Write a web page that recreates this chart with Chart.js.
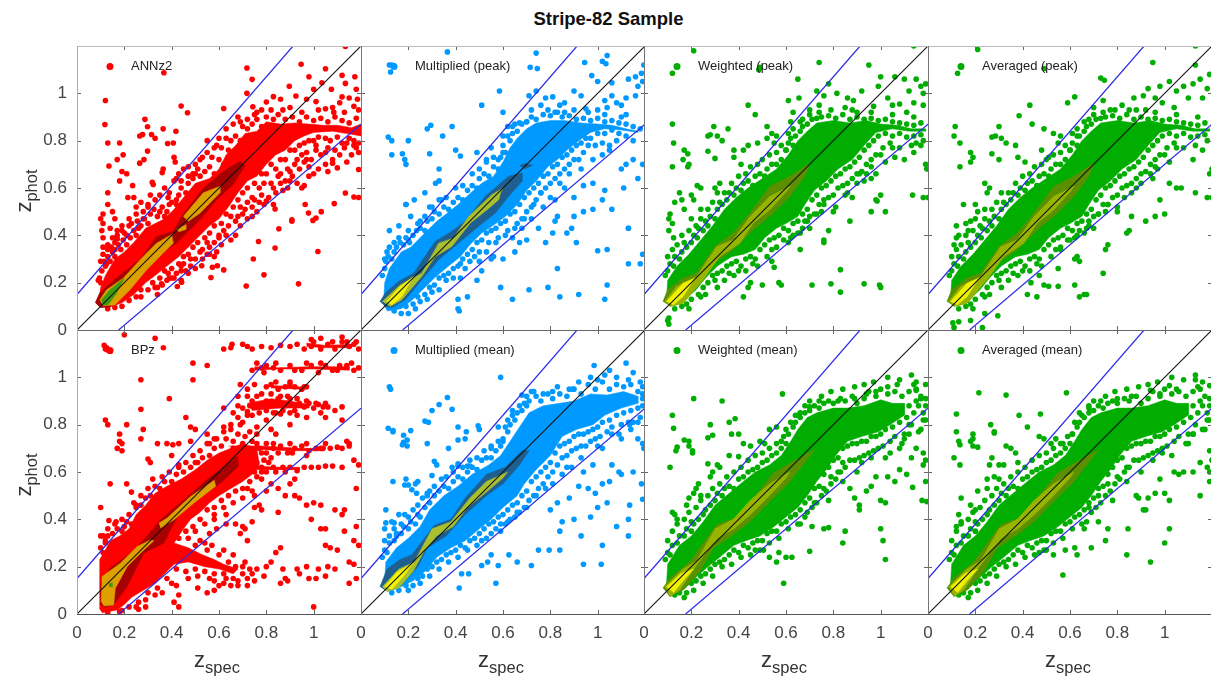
<!DOCTYPE html>
<html>
<head>
<meta charset="utf-8">
<title>Stripe-82 Sample</title>
<script src="https://cdn.jsdelivr.net/npm/chart.js@4/dist/chart.umd.min.js"></script>
<style>
  html, body { margin: 0; width: 1211px; height: 684px; overflow: hidden; background: #fff; }
  body { position: relative; font-family: "Liberation Sans", sans-serif; color: #333; }
  canvas { position: absolute; }
  #titulo { position: absolute; left: 3px; width: 1211px; top: 8px; text-align: center; font-size: 18.5px; font-weight: bold; color: #111; }
  .ejeX, .ejeY { position: absolute; font-size: 22px; line-height: 24px; white-space: nowrap; color: #333; }
  .ejeX sub, .ejeY sub { font-size: 16.5px; vertical-align: -6px; line-height: 0; }
  .ejeY { transform: rotate(-90deg); transform-origin: center; width: 80px; text-align: center; }
  .ejeX { width: 80px; text-align: center; top: 648px; }
</style>
</head>
<body>
<div id="titulo">Stripe-82 Sample</div>
<script>
// ── DATOS ───────────────────────────────────────────────────
const tickLabels = ['0', '0.2', '0.4', '0.6', '0.8', '1', ''];
const lineaIdentidad = [[0, 0], [1.2, 1.2]];
const lineaSuperior = [[0, 0.15], [0.913, 1.2]];
const lineaInferior = [[0.176, 0], [1.2, 0.87]];

// ANNz2
const annzNube = [[.09,.11],[.10,.18],[.12,.23],[.16,.30],[.20,.33],[.24,.37],[.29,.43],[.33,.45],[.37,.47],[.41,.51],[.45,.56],[.50,.62],[.56,.64],[.60,.68],[.63,.74],[.67,.78],[.71,.83],[.76,.84],[.80,.88],[.86,.87],[.92,.875],[.98,.87],[1.04,.865],[1.10,.865],[1.16,.855],[1.2,.87],[1.2,.82],[1.14,.83],[1.08,.84],[1.0,.835],[.96,.82],[.92,.80],[.88,.76],[.84,.74],[.80,.70],[.76,.65],[.72,.63],[.68,.58],[.64,.52],[.60,.47],[.56,.44],[.52,.40],[.47,.35],[.43,.31],[.38,.27],[.33,.23],[.29,.20],[.24,.15],[.19,.115],[.15,.10],[.10,.095]];
const annzOscuro = [[.077,.115],[.095,.155],[.167,.22],[.265,.297],[.336,.395],[.407,.417],[.442,.48],[.534,.60],[.619,.671],[.689,.713],[.71,.695],[.66,.615],[.59,.55],[.52,.466],[.477,.424],[.42,.367],[.336,.31],[.265,.226],[.195,.141],[.138,.096],[.096,.096]];
const annzMedio = [[.096,.127],[.124,.169],[.195,.219],[.28,.311],[.336,.367],[.40,.403],[.407,.367],[.364,.325],[.294,.254],[.223,.169],[.16,.106],[.11,.102]];
const annzMedio2 = [[.449,.48],[.534,.58],[.604,.607],[.604,.58],[.52,.494],[.47,.459]];
const annzMedio3 = [[.42,.425],[.46,.445],[.46,.425],[.43,.415]];
const annzCentro = [[.103,.127],[.138,.169],[.20,.22],[.167,.155],[.131,.106],[.108,.106]];
const annzBorde = [[.10,.20],[.095,.22],[.105,.25],[.09,.21],[.115,.29],[.12,.27],[.13,.31],[.14,.29],[.15,.33],[.145,.35],[.16,.34],[.175,.36],[.185,.34],[.17,.385],[.195,.38],[.21,.36],[.21,.40],[.225,.39],[.24,.42],[.25,.40],[.26,.43],[.255,.46],[.27,.44],[.285,.47],[.28,.50],[.30,.45],[.31,.49],[.325,.51],[.34,.48],[.35,.50],[.36,.52],[.38,.50],[.39,.53],[.385,.56],[.40,.54],[.42,.53],[.43,.57],[.44,.60],[.46,.58],[.47,.62],[.49,.64],[.50,.66],[.52,.65],[.54,.67],[.56,.69],[.58,.66],[.60,.72],[.62,.70],[.64,.76],[.65,.80],[.67,.82],[.69,.80],[.70,.86],[.72,.85],[.74,.87],[.76,.89],[.78,.86],[.80,.90],[.83,.89],[.85,.91],[.88,.89],[.91,.90],[.94,.88],[.97,.90],[1.0,.885],[1.03,.895],[1.06,.88],[1.09,.90],[1.12,.885],[1.15,.875],[1.18,.895],[.13,.09],[.16,.095],[.19,.10],[.22,.125],[.25,.14],[.27,.17],[.30,.17],[.32,.20],[.35,.22],[.34,.18],[.37,.25],[.39,.22],[.40,.26],[.43,.28],[.45,.31],[.44,.27],[.47,.32],[.49,.35],[.48,.30],[.51,.37],[.53,.34],[.54,.39],[.56,.41],[.55,.37],[.58,.44],[.60,.40],[.61,.45],[.63,.49],[.65,.48],[.66,.52],[.64,.44],[.68,.55],[.70,.58],[.69,.52],[.72,.60],[.74,.56],[.75,.62],[.77,.60],[.78,.66],[.80,.66],[.79,.62],[.82,.70],[.84,.68],[.86,.72],[.85,.65],[.88,.72],[.90,.76],[.89,.68],[.92,.76],[.94,.78],[.93,.72],[.96,.79],[.98,.80],[.97,.75],[1.0,.80],[1.02,.815],[1.01,.78],[1.05,.81],[1.07,.80],[1.06,.77],[1.10,.815],[1.12,.79],[1.15,.81],[1.17,.80],[1.19,.79],[.98,.69],[.90,.67],[.75,.55],[.72,.54],[.68,.48],[.62,.42],[.58,.37],[.52,.33],[.42,.24],[.46,.25]];
const annzAnillo = [[.10,.29],[.11,.35],[.13,.36],[.125,.28],[.15,.39],[.17,.42],[.16,.31],[.19,.44],[.20,.41],[.22,.47],[.23,.45],[.25,.52],[.27,.54],[.28,.47],[.30,.52],[.33,.55],[.31,.57],[.35,.57],[.37,.60],[.39,.58],[.41,.63],[.43,.66],[.42,.55],[.45,.68],[.47,.65],[.50,.70],[.52,.72],[.51,.68],[.55,.75],[.57,.73],[.59,.78],[.61,.77],[.63,.81],[.66,.87],[.69,.88],[.75,.91],[.78,.93],[.87,.93],[.90,.94],[.95,.92],[1.02,.93],[1.08,.94],[1.13,.92],[1.19,.93],[.27,.14],[.33,.18],[.36,.19],[.38,.21],[.41,.22],[.47,.24],[.45,.28],[.50,.26],[.53,.30],[.56,.32],[.59,.33],[.61,.36],[.65,.38],[.67,.40],[.69,.44],[.72,.47],[.74,.48],[.76,.50],[.79,.53],[.81,.56],[.83,.60],[.86,.62],[.88,.63],[.91,.65],[.94,.68],[.96,.71],[.99,.72],[1.03,.74],[1.05,.70],[1.08,.72],[1.11,.74],[1.13,.77],[1.16,.74],[1.19,.75],[.71,.51],[.77,.54],[.83,.53],[.89,.60],[.95,.60],[.58,.31],[.44,.21],[.34,.15]];
const annzPuntos = [[.12,.97],[.118,.868],[.13,.79],[.135,.693],[.13,.58],[.13,.53],[.11,.49],[.10,.47],[.11,.45],[.105,.42],[.11,.39],[.15,.50],[.16,.47],[.14,.43],[.17,.40],[.18,.79],[.195,.74],[.17,.72],[.19,.67],[.21,.66],[.18,.63],[.235,.61],[.215,.56],[.24,.56],[.287,.89],[.298,.859],[.277,.826],[.265,.82],[.315,.826],[.33,.81],[.364,.85],[.418,.84],[.383,.788],[.407,.79],[.298,.756],[.283,.72],[.265,.705],[.41,.73],[.415,.71],[.364,.68],[.36,.665],[.318,.624],[.322,.615],[.44,.946],[.467,.918],[.367,1.087],[.62,.936],[.718,1.107],[.74,1.059],[.718,1.0],[.743,.943],[.947,1.123],[1.05,1.104],[1.134,1.198],[1.12,1.076],[1.174,1.07],[1.134,1.042],[.98,1.07],[1.035,1.045],[.897,1.03],[1.0,1.017],[1.075,1.017],[1.18,1.017],[.8,.963],[.83,.986],[.86,.975],[.925,.989],[.97,.975],[1.01,.965],[1.12,.985],[1.15,.98],[1.185,.975],[1.11,.96],[1.17,.945],[1.05,.935],[1.085,.92],[.936,.195],[.79,.233],[.715,.186],[.745,.30],[.837,.346],[1.018,.332],[.853,.428],[.908,.466],[.908,.46],[.978,.494],[.997,.463],[1.01,.473],[1.032,.50],[1.087,.534],[.964,.53],[1.134,.579],[1.17,.562],[1.19,.56],[1.19,.678],[.837,.511],[.80,.545],[.767,.374],[.62,.254],[.593,.271],[.572,.265],[.566,.222],[.527,.271],[.442,.202],[.424,.184],[.357,.195],[.385,.24],[1.08,.705],[1.06,.67],[1.02,.68],[1.0,.66],[.98,.65],[.96,.61],[.93,.62],[.90,.63],[.87,.59],[1.10,.685],[1.14,.79],[1.17,.78],[1.18,.77],[1.14,.71],[.95,.74],[.92,.70],[.97,.72],[1.01,.76],[1.05,.75],[1.09,.76],[.86,.66],[.82,.62],[.84,.58],[.78,.57],[.74,.52],[.70,.49],[.67,.46],[.63,.40],[.60,.39],[.56,.35],[.55,.32],[.50,.30],[.48,.27],[.44,.25],[.40,.22],[.37,.48],[.30,.53],[.25,.49],[.22,.44],[.19,.42],[.16,.37],[.13,.34],[.11,.32],[.44,.63],[.42,.64],[.49,.66],[.47,.69],[.53,.73],[.58,.77],[.60,.81],[.55,.80],[.63,.85],[.68,.90],[.72,.89],[.76,.92],[.82,.93]];

// Multiplied (peak)
const multPicoNube = [[.095,.11],[.10,.20],[.12,.26],[.17,.33],[.21,.35],[.25,.39],[.32,.46],[.36,.49],[.41,.53],[.47,.585],[.51,.62],[.56,.65],[.60,.71],[.63,.77],[.66,.81],[.70,.85],[.74,.875],[.80,.885],[.86,.885],[.93,.875],[1.0,.87],[1.06,.865],[1.12,.85],[1.17,.84],[1.17,.835],[1.10,.845],[1.03,.85],[.97,.835],[.92,.80],[.87,.76],[.83,.72],[.79,.69],[.74,.63],[.70,.59],[.66,.53],[.61,.48],[.57,.45],[.51,.41],[.46,.36],[.42,.31],[.37,.27],[.31,.22],[.27,.18],[.22,.13],[.17,.09],[.11,.08]];
const multPicoOscuro = [[.08,.12],[.102,.155],[.158,.205],[.222,.24],[.313,.374],[.384,.417],[.44,.459],[.525,.565],[.624,.65],[.68,.664],[.68,.628],[.624,.565],[.568,.494],[.497,.438],[.412,.367],[.328,.297],[.257,.212],[.186,.127],[.13,.095],[.102,.099]];
const multPicoOscuro2 = [[.67,.695],[.70,.705],[.725,.695],[.69,.68]];
const multPicoMedio = [[.09,.12],[.165,.19],[.257,.24],[.328,.367],[.39,.388],[.455,.48],[.553,.572],[.60,.60],[.59,.58],[.582,.55],[.533,.508],[.462,.452],[.384,.353],[.313,.31],[.257,.226],[.172,.127],[.123,.099]];
const multPicoCentro = [[.109,.12],[.165,.184],[.222,.226],[.172,.141],[.13,.106]];
const multPicoBorde = [[.09,.23],[.10,.26],[.105,.29],[.115,.31],[.13,.30],[.14,.33],[.15,.35],[.165,.37],[.18,.36],[.19,.39],[.205,.37],[.22,.40],[.235,.42],[.25,.43],[.27,.42],[.28,.46],[.30,.47],[.31,.50],[.33,.49],[.35,.52],[.37,.51],[.39,.54],[.41,.56],[.43,.55],[.45,.59],[.47,.61],[.49,.60],[.50,.64],[.52,.66],[.54,.65],[.56,.69],[.58,.68],[.59,.73],[.61,.75],[.60,.78],[.63,.80],[.64,.83],[.66,.84],[.68,.87],[.70,.88],[.72,.90],[.74,.89],[.77,.91],[.80,.905],[.83,.92],[.85,.90],[.88,.905],[.91,.89],[.94,.895],[.97,.885],[1.0,.895],[1.03,.88],[1.06,.885],[1.09,.875],[1.12,.87],[1.15,.86],[1.18,.85],[.14,.08],[.17,.07],[.19,.10],[.22,.11],[.24,.14],[.27,.15],[.29,.18],[.31,.19],[.33,.22],[.35,.23],[.37,.24],[.39,.26],[.41,.27],[.43,.30],[.45,.32],[.47,.34],[.46,.29],[.49,.37],[.51,.38],[.50,.33],[.53,.41],[.55,.42],[.54,.37],[.57,.43],[.59,.45],[.58,.39],[.61,.46],[.63,.49],[.62,.42],[.65,.50],[.67,.53],[.66,.45],[.69,.56],[.71,.58],[.70,.50],[.73,.60],[.75,.62],[.74,.55],[.77,.65],[.79,.66],[.78,.60],[.81,.69],[.83,.70],[.82,.64],[.85,.73],[.87,.74],[.86,.68],[.89,.76],[.91,.78],[.90,.72],[.93,.79],[.95,.81],[.94,.75],[.97,.81],[1.0,.83],[.99,.78],[1.03,.83],[1.06,.845],[1.09,.83],[1.12,.82],[1.02,.79],[.88,.66],[.84,.62],[.80,.56],[.77,.52],[.72,.47],[.68,.43],[.64,.39],[.50,.29],[.44,.26],[.39,.22],[.33,.17],[.28,.13],[.23,.09]];
const multPicoAnillo = [[.10,.30],[.12,.35],[.16,.39],[.20,.42],[.24,.45],[.21,.48],[.27,.48],[.30,.52],[.33,.55],[.36,.56],[.40,.60],[.43,.61],[.47,.66],[.50,.68],[.53,.71],[.56,.73],[.55,.77],[.60,.82],[.62,.86],[.65,.87],[.72,.93],[.76,.95],[.79,.93],[.84,.95],[.90,.93],[.96,.92],[1.03,.91],[1.10,.90],[.96,.78],[.92,.72],[.88,.70],[.84,.66],[.80,.62],[.76,.58],[.73,.53],[.69,.47],[.65,.43],[.61,.40],[.57,.37],[.53,.33],[.48,.31],[.42,.28],[.36,.21],[.30,.16],[.25,.12],[.20,.07],[1.05,.78],[1.08,.80],[1.15,.80],[1.02,.74],[.98,.72],[.93,.68]];
const multPicoPuntos = [[.365,1.175],[.12,1.12],[.13,1.12],[.14,1.115],[.125,1.09],[.715,1.11],[.745,1.105],[.74,1.17],[.945,1.13],[1.02,1.135],[1.035,1.125],[1.04,1.16],[1.195,1.12],[1.185,1.085],[1.16,1.07],[.975,1.075],[1.0,1.05],[1.06,1.045],[1.13,1.06],[1.17,1.03],[1.19,1.05],[.585,1.01],[.60,.92],[.51,.95],[.71,.99],[.74,1.01],[.78,.98],[.81,.985],[.86,.96],[.90,1.01],[.93,.99],[1.03,.97],[1.06,.99],[1.08,.96],[1.12,.98],[1.16,.99],[.82,.92],[.86,.92],[.95,.935],[1.0,.93],[1.04,.94],[1.1,.95],[1.12,.91],[.70,.88],[.67,.875],[.64,.86],[.385,.86],[.295,.865],[.28,.85],[.345,.82],[.115,.815],[.13,.80],[.2,.80],[.175,.745],[.13,.74],[.185,.72],[.19,.70],[.29,.745],[.33,.68],[.40,.76],[.42,.735],[.49,.75],[.53,.72],[.33,.63],[.315,.62],[.27,.58],[.225,.55],[.19,.53],[.16,.44],[.20,.38],[.14,.37],[.11,.33],[.12,.42],[.19,.53],[1.19,.32],[1.18,.28],[1.13,.28],[1.04,.34],[1.0,.335],[.83,.26],[.84,.14],[1.04,.19],[1.03,.13],[.92,.15],[.79,.18],[.71,.17],[.64,.13],[.59,.18],[.55,.30],[.51,.25],[.49,.21],[.42,.22],[.41,.13],[.45,.14],[.41,.09],[.415,.08],[.82,.46],[.83,.48],[.90,.48],[.94,.50],[.98,.51],[1.02,.55],[1.06,.51],[1.13,.43],[1.13,.43],[.87,.41],[.89,.43],[.91,.37],[.81,.41],[.78,.37],[.70,.38],[.75,.43],[.67,.37],[.65,.33],[.60,.30],[.56,.31],[1.03,.59],[1.11,.60],[1.17,.64],[1.19,.70],[1.15,.72],[1.05,.76],[.98,.62],[.94,.61],[.86,.60],[.90,.56],[.82,.55],[1.1,.68],[1.12,.70],[.76,.58],[.72,.52],[.68,.47],[.34,.55],[.29,.52],[.25,.46],[.60,.75],[.62,.82],[.58,.72]];

// Weighted y Averaged (peak)
const verdePicoNube = [[.095,.127],[.10,.21],[.14,.27],[.19,.32],[.24,.38],[.29,.44],[.34,.51],[.39,.56],[.44,.60],[.50,.64],[.56,.68],[.61,.74],[.65,.80],[.69,.84],[.73,.875],[.80,.885],[.87,.875],[.94,.885],[1.0,.87],[1.07,.865],[1.13,.85],[1.19,.85],[1.19,.84],[1.12,.84],[1.05,.85],[.98,.835],[.93,.78],[.88,.72],[.82,.68],[.77,.63],[.72,.59],[.68,.53],[.65,.48],[.60,.45],[.56,.43],[.51,.39],[.47,.34],[.42,.32],[.37,.31],[.31,.27],[.26,.22],[.22,.17],[.17,.125],[.11,.10]];
const verdePicoOscuro = [[.08,.12],[.10,.17],[.165,.22],[.222,.24],[.30,.353],[.377,.41],[.448,.494],[.532,.607],[.617,.65],[.702,.706],[.68,.65],[.617,.565],[.547,.494],[.462,.424],[.377,.339],[.292,.282],[.236,.198],[.165,.113],[.11,.10]];
const verdePicoMedio = [[.088,.12],[.137,.184],[.222,.226],[.307,.353],[.377,.381],[.448,.48],[.532,.565],[.617,.607],[.603,.586],[.532,.508],[.462,.452],[.405,.367],[.32,.31],[.25,.212],[.165,.113],[.115,.10]];
const verdePicoCentro = [[.095,.12],[.165,.198],[.215,.219],[.165,.141],[.123,.106]];
const verdePicoBorde = [[.09,.23],[.10,.25],[.11,.28],[.125,.27],[.13,.31],[.15,.30],[.16,.33],[.18,.35],[.17,.37],[.20,.37],[.21,.40],[.225,.39],[.23,.43],[.25,.42],[.26,.46],[.27,.44],[.28,.48],[.30,.47],[.31,.51],[.32,.54],[.33,.53],[.35,.55],[.36,.58],[.38,.57],[.39,.60],[.41,.59],[.42,.62],[.44,.63],[.46,.61],[.47,.65],[.49,.66],[.51,.65],[.52,.68],[.54,.70],[.56,.70],[.58,.72],[.60,.76],[.61,.79],[.63,.78],[.64,.82],[.66,.84],[.67,.86],[.69,.87],[.71,.89],[.73,.895],[.75,.90],[.78,.905],[.81,.895],[.84,.91],[.87,.89],[.90,.90],[.93,.89],[.96,.895],[.99,.885],[1.02,.89],[1.05,.88],[1.08,.875],[1.11,.87],[1.14,.865],[1.17,.875],[.13,.09],[.16,.10],[.18,.11],[.20,.13],[.23,.15],[.25,.18],[.27,.20],[.29,.23],[.31,.24],[.33,.25],[.35,.27],[.37,.28],[.39,.29],[.41,.27],[.43,.30],[.45,.31],[.47,.30],[.49,.34],[.51,.36],[.53,.38],[.55,.39],[.57,.40],[.59,.43],[.61,.42],[.63,.45],[.65,.46],[.67,.49],[.69,.51],[.71,.55],[.70,.48],[.73,.57],[.75,.60],[.74,.53],[.77,.61],[.79,.63],[.78,.56],[.81,.65],[.83,.66],[.82,.60],[.85,.68],[.87,.69],[.86,.62],[.89,.71],[.91,.73],[.90,.66],[.93,.76],[.95,.78],[.94,.70],[.97,.80],[.99,.82],[.98,.74],[1.02,.83],[1.05,.82],[1.01,.77],[1.08,.83],[1.11,.815],[1.14,.82],[1.17,.825],[1.05,.77],[.96,.69],[.86,.58],[.75,.50],[.67,.43],[.62,.39],[.54,.34],[.46,.28],[.40,.25],[.36,.24],[.30,.21],[.24,.14]];
const verdePicoAnillo = [[.10,.31],[.12,.34],[.14,.36],[.16,.40],[.19,.42],[.22,.44],[.20,.47],[.24,.47],[.27,.51],[.24,.51],[.29,.54],[.34,.58],[.31,.58],[.37,.62],[.40,.65],[.43,.66],[.45,.69],[.48,.70],[.50,.72],[.53,.74],[.56,.75],[.58,.78],[.55,.79],[.61,.83],[.63,.85],[.66,.88],[.70,.91],[.74,.92],[.79,.93],[.88,.93],[.96,.92],[1.05,.91],[1.14,.90],[.19,.09],[.26,.15],[.31,.18],[.34,.21],[.38,.23],[.43,.25],[.48,.27],[.52,.31],[.56,.35],[.59,.38],[.63,.40],[.66,.41],[.68,.46],[.72,.49],[.76,.53],[.80,.57],[.84,.61],[.88,.64],[.92,.67],[.96,.72],[1.0,.74],[1.04,.79],[1.08,.77],[1.13,.78],[1.18,.80],[.94,.66],[.90,.62],[.80,.50],[.70,.43]];
const pesoPicoPuntos = [[.21,1.18],[.12,1.085],[.49,1.11],[.485,1.1],[.65,1.06],[.74,1.13],[.78,1.04],[.73,1.01],[.74,.95],[.815,1.0],[.86,.98],[.95,1.12],[1.14,1.2],[1.0,1.07],[1.06,1.07],[1.15,1.06],[1.19,1.04],[1.12,1.01],[1.1,1.06],[1.17,1.03],[1.18,1.0],[.885,.97],[.92,1.01],[.99,1.03],[.7,.93],[.63,.92],[.67,.89],[.62,.88],[.44,.95],[.47,.91],[.61,.97],[.655,.98],[.76,.99],[.85,.94],[.9,.92],[.97,.945],[1.03,.98],[1.05,.95],[1.08,.955],[1.14,.96],[1.18,.95],[1.11,.92],[.12,.87],[.295,.86],[.355,.85],[.28,.825],[.27,.82],[.31,.82],[.33,.80],[.125,.79],[.38,.76],[.17,.76],[.185,.745],[.165,.72],[.19,.70],[.12,.69],[.185,.69],[.27,.755],[.30,.725],[.38,.73],[.41,.70],[.52,.86],[.54,.83],[.56,.82],[.52,.81],[.48,.79],[.44,.78],[.42,.76],[.32,.62],[.30,.60],[.24,.60],[.225,.61],[.20,.57],[.15,.58],[.13,.54],[.11,.49],[.105,.47],[.12,.45],[.105,.42],[.125,.39],[.16,.55],[.17,.51],[.21,.55],[.995,.19],[1.0,.18],[.71,.19],[.79,.195],[.83,.255],[.83,.16],[.93,.195],[.58,.19],[.50,.19],[.55,.265],[.54,.29],[.45,.20],[.44,.18],[.42,.14],[.57,.20],[.10,.04],[.105,.025],[.105,.05],[.76,.37],[.76,.38],[.78,.42],[.87,.46],[.98,.55],[.985,.545],[.96,.5],[1.02,.50],[1.18,.56],[1.2,.56],[1.195,.68],[1.19,.70],[1.135,.57],[1.0,.57],[.96,.64],[.93,.63],[.91,.66],[.88,.56],[.85,.57],[.81,.52],[.76,.55],[.73,.49],[.69,.46],[.65,.41],[.61,.37],[.66,.34],[1.1,.72],[1.14,.75],[1.15,.79],[1.17,.78],[1.06,.73],[1.02,.71],[.98,.66],[.62,.81],[.60,.76]];
const promPicoPuntos = [[.21,1.185],[.125,1.085],[.49,1.105],[.73,1.065],[.745,1.055],[.95,1.13],[1.13,1.2],[1.13,1.12],[.98,1.03],[.93,1.02],[.87,.98],[.91,.99],[.96,.98],[.99,.96],[1.02,1.05],[1.05,1.01],[1.08,1.03],[1.12,1.04],[1.15,1.06],[1.19,1.08],[1.18,1.02],[1.1,.98],[1.16,.98],[1.04,.94],[.62,.985],[.59,.96],[.74,.97],[.70,.94],[.77,.93],[.82,.95],[.85,.93],[.92,.93],[.68,.89],[.43,.95],[.385,.905],[.44,.87],[.49,.85],[.53,.83],[.56,.82],[.115,.86],[.11,.82],[.135,.79],[.30,.86],[.285,.82],[.27,.815],[.31,.81],[.33,.79],[.37,.78],[.18,.75],[.19,.73],[.18,.71],[.135,.69],[.27,.745],[.30,.72],[.38,.73],[.41,.71],[.48,.76],[.51,.73],[.24,.62],[.26,.60],[.25,.58],[.15,.53],[.20,.53],[.21,.50],[.18,.46],[.12,.44],[.13,.40],[.12,.39],[.16,.45],[.17,.42],[.11,.36],[.66,.15],[.64,.14],[.62,.19],[.51,.185],[.55,.185],[.49,.19],[.46,.14],[.47,.23],[.42,.15],[.435,.20],[.55,.26],[.62,.30],[.75,.34],[.76,.36],[.74,.24],[.67,.15],[.105,.03],[.11,.01],[.13,.035],[.295,.06],[.24,.07],[.23,.01],[.18,.04],[.63,.31],[.64,.29],[.84,.41],[.85,.42],[.86,.48],[.92,.46],[.96,.48],[1.0,.49],[.98,.55],[1.13,.58],[1.18,.56],[1.2,.56],[1.19,.66],[1.2,.68],[1.05,.60],[1.07,.60],[1.02,.62],[.95,.64],[.88,.60],[.83,.56],[.80,.52],[.76,.53],[.72,.49],[.68,.44],[.64,.42],[.60,.38],[.56,.34],[1.12,.72],[1.16,.76],[1.02,.71],[.97,.68],[.60,.76],[.63,.82]];

// Multiplied (mean)
const multMediaNube = [[.098,.116],[.105,.22],[.15,.28],[.20,.32],[.25,.37],[.29,.44],[.35,.50],[.41,.54],[.47,.59],[.54,.63],[.59,.67],[.63,.73],[.67,.79],[.71,.85],[.77,.88],[.84,.89],[.90,.90],[.97,.93],[1.04,.925],[1.11,.94],[1.17,.92],[1.17,.89],[1.10,.87],[1.03,.84],[.98,.80],[.91,.78],[.85,.75],[.80,.67],[.74,.61],[.69,.55],[.66,.50],[.60,.45],[.55,.40],[.50,.36],[.44,.31],[.38,.28],[.32,.24],[.27,.18],[.22,.14],[.17,.115],[.12,.095]];
const multMediaOscuro = [[.08,.115],[.11,.19],[.165,.23],[.215,.25],[.31,.375],[.38,.40],[.44,.49],[.53,.59],[.61,.62],[.68,.69],[.71,.69],[.67,.63],[.60,.55],[.53,.50],[.44,.42],[.36,.33],[.28,.28],[.24,.20],[.17,.12],[.11,.095]];
const multMediaMedio = [[.09,.115],[.16,.19],[.225,.22],[.30,.36],[.38,.39],[.46,.49],[.53,.56],[.62,.60],[.60,.575],[.53,.515],[.45,.45],[.39,.37],[.32,.33],[.27,.27],[.22,.18],[.16,.11],[.11,.095]];
const multMediaCentro = [[.10,.115],[.15,.175],[.22,.215],[.18,.16],[.13,.105]];
const multMediaBorde = [[.09,.24],[.10,.27],[.11,.26],[.12,.30],[.14,.31],[.15,.33],[.17,.34],[.18,.37],[.20,.36],[.21,.39],[.23,.38],[.24,.42],[.25,.41],[.27,.45],[.29,.47],[.28,.50],[.31,.50],[.33,.52],[.35,.54],[.37,.53],[.39,.56],[.41,.58],[.43,.57],[.45,.60],[.47,.62],[.49,.61],[.51,.65],[.53,.66],[.55,.66],[.57,.69],[.59,.71],[.60,.74],[.62,.77],[.63,.80],[.65,.82],[.66,.85],[.68,.86],[.69,.89],[.71,.90],[.74,.92],[.76,.90],[.79,.93],[.81,.91],[.84,.93],[.87,.92],[.90,.95],[.93,.93],[.96,.97],[.99,.95],[1.02,.98],[1.05,.95],[1.08,.97],[1.11,.96],[1.14,.97],[1.17,.94],[1.19,.96],[.13,.09],[.16,.10],[.19,.12],[.22,.12],[.24,.15],[.26,.16],[.28,.19],[.30,.20],[.32,.22],[.34,.23],[.36,.25],[.38,.26],[.40,.27],[.42,.29],[.44,.28],[.46,.31],[.48,.32],[.50,.34],[.52,.36],[.51,.31],[.54,.38],[.56,.39],[.55,.34],[.58,.41],[.60,.42],[.59,.38],[.62,.44],[.64,.46],[.63,.40],[.66,.47],[.68,.50],[.67,.43],[.70,.52],[.72,.56],[.71,.48],[.74,.58],[.76,.60],[.75,.53],[.78,.62],[.80,.64],[.79,.58],[.82,.68],[.84,.71],[.83,.63],[.86,.72],[.88,.73],[.87,.67],[.90,.75],[.92,.76],[.91,.70],[.94,.76],[.96,.77],[.95,.71],[.98,.78],[1.0,.79],[.99,.74],[1.02,.81],[1.05,.82],[1.04,.77],[1.08,.84],[1.11,.85],[1.10,.80],[1.14,.86],[1.17,.87],[1.15,.81],[1.19,.88],[1.19,.93],[1.19,.91],[1.18,.83]];
const multMediaAnillo = [[.10,.31],[.12,.33],[.14,.36],[.17,.38],[.16,.42],[.20,.41],[.22,.44],[.24,.46],[.26,.49],[.29,.52],[.31,.54],[.34,.57],[.36,.58],[.39,.60],[.43,.62],[.46,.65],[.49,.66],[.52,.69],[.55,.71],[.58,.73],[.61,.79],[.64,.84],[.67,.88],[.70,.92],[.73,.94],[.77,.93],[.83,.96],[.88,.95],[.92,.98],[.97,1.0],[1.03,1.01],[1.08,1.0],[.20,.10],[.25,.13],[.29,.16],[.33,.19],[.37,.22],[.41,.24],[.45,.27],[.49,.29],[.53,.32],[.57,.36],[.61,.38],[.65,.41],[.69,.45],[.73,.50],[.77,.55],[.81,.60],[.85,.66],[.89,.69],[.93,.71],[.97,.73],[1.01,.75],[1.06,.79],[1.09,.76],[1.13,.81],[1.17,.81],[.93,.66],[.87,.62],[.81,.55]];
const multMediaPuntos = [[.59,1.0],[.12,.96],[.125,.95],[.365,.915],[.33,.885],[.385,.865],[.30,.86],[.27,.815],[.285,.81],[.115,.785],[.135,.775],[.21,.775],[.135,.77],[.18,.755],[.195,.735],[.18,.725],[.175,.715],[.195,.71],[.28,.72],[.41,.79],[.445,.77],[.495,.795],[.50,.78],[.44,.74],[.41,.735],[.37,.70],[.31,.645],[.32,.63],[.385,.62],[.41,.635],[.41,.625],[.45,.625],[.46,.625],[.30,.585],[.23,.55],[.24,.56],[.135,.56],[.185,.545],[.20,.545],[.19,.57],[.215,.525],[.235,.51],[.28,.51],[.105,.44],[.105,.385],[.14,.385],[.10,.36],[.15,.34],[.185,.42],[.13,.39],[.425,.17],[.455,.17],[.415,.11],[.57,.13],[.51,.205],[.535,.22],[.55,.25],[.58,.205],[.625,.25],[.66,.22],[.72,.205],[.75,.27],[.795,.27],[.84,.27],[1.02,.29],[1.015,.21],[.94,.21],[1.135,.46],[1.19,.485],[1.185,.55],[1.13,.40],[1.13,.33],[1.08,.37],[1.09,.60],[1.1,.59],[1.15,.60],[1.19,.72],[1.195,.70],[1.17,.74],[1.14,.78],[1.135,.80],[.85,.39],[.84,.35],[.90,.40],[.93,.33],[.97,.41],[1.0,.45],[1.04,.47],[.99,.51],[1.02,.55],[1.06,.63],[1.05,.56],[.88,.49],[.83,.47],[.80,.44],[.92,.54],[.96,.53],[.94,.60],[.98,.63],[.89,.62],[.85,.59],[.78,.53],[.74,.50],[.70,.45],[.66,.43],[.62,.39],[.59,.35],[1.13,.99],[1.18,.98],[1.15,1.02],[1.12,1.06],[1.05,1.03],[.985,1.05],[1.0,.99],[.895,.95],[.81,.94],[.72,.94],[.68,.925],[1.1,.74],[1.06,.76],[1.02,.70],[1.0,.71],[.70,.88],[.64,.86],[.62,.82],[.60,.73],[.55,.70],[.58,.79]];

// Weighted y Averaged (mean)
const verdeMediaNube = [[.095,.123],[.10,.21],[.15,.29],[.20,.33],[.25,.39],[.30,.46],[.36,.51],[.42,.56],[.47,.60],[.53,.63],[.58,.67],[.62,.73],[.65,.78],[.69,.83],[.73,.85],[.80,.87],[.86,.87],[.93,.88],[1.0,.905],[1.05,.89],[1.10,.89],[1.10,.84],[1.04,.80],[.99,.77],[.92,.75],[.86,.73],[.81,.67],[.77,.61],[.73,.56],[.69,.50],[.65,.45],[.60,.41],[.55,.37],[.49,.33],[.43,.31],[.38,.29],[.32,.24],[.27,.20],[.22,.155],[.17,.105],[.11,.075]];
const verdeMediaOscuro = [[.08,.11],[.108,.15],[.193,.22],[.307,.377],[.384,.405],[.462,.49],[.547,.596],[.631,.645],[.723,.695],[.688,.652],[.617,.56],[.532,.476],[.448,.39],[.377,.335],[.292,.278],[.236,.18],[.165,.102],[.109,.073]];
const verdeMediaMedio = [[.088,.115],[.165,.19],[.222,.225],[.30,.36],[.377,.40],[.448,.48],[.53,.55],[.617,.60],[.60,.575],[.53,.50],[.45,.42],[.38,.36],[.31,.32],[.27,.27],[.21,.19],[.15,.10],[.11,.075]];
const verdeMediaCentro = [[.095,.115],[.155,.17],[.21,.19],[.165,.14],[.125,.09]];
const verdeMediaBorde = [[.09,.23],[.10,.26],[.11,.25],[.12,.29],[.14,.30],[.15,.33],[.17,.33],[.18,.36],[.20,.35],[.21,.38],[.23,.40],[.25,.42],[.26,.44],[.28,.46],[.30,.48],[.31,.51],[.33,.50],[.34,.53],[.36,.54],[.38,.53],[.40,.57],[.42,.58],[.44,.60],[.46,.61],[.48,.62],[.50,.64],[.52,.65],[.54,.67],[.56,.68],[.58,.70],[.60,.72],[.61,.76],[.63,.79],[.64,.81],[.66,.83],[.68,.85],[.70,.86],[.72,.88],[.74,.87],[.76,.89],[.78,.90],[.80,.89],[.83,.91],[.85,.90],[.88,.92],[.90,.89],[.93,.91],[.95,.94],[.98,.92],[1.0,.95],[1.03,.93],[1.06,.94],[1.09,.92],[1.12,.94],[1.15,.95],[1.17,.92],[1.19,.91],[.13,.08],[.15,.09],[.18,.09],[.20,.13],[.22,.14],[.24,.16],[.26,.17],[.28,.19],[.30,.21],[.32,.22],[.34,.23],[.36,.25],[.38,.27],[.40,.26],[.42,.29],[.44,.28],[.46,.30],[.48,.31],[.50,.31],[.52,.34],[.54,.35],[.56,.35],[.58,.38],[.60,.39],[.62,.41],[.64,.42],[.66,.44],[.68,.47],[.70,.49],[.72,.53],[.71,.45],[.74,.54],[.76,.59],[.75,.50],[.78,.62],[.80,.65],[.79,.55],[.82,.66],[.84,.70],[.83,.60],[.86,.71],[.88,.72],[.87,.65],[.90,.72],[.92,.73],[.91,.66],[.94,.73],[.96,.75],[.95,.68],[.98,.75],[1.0,.76],[.99,.70],[1.02,.78],[1.05,.79],[1.04,.73],[1.08,.81],[1.11,.83],[1.10,.76],[1.14,.85],[1.16,.88],[1.13,.80],[1.18,.85],[1.19,.88],[1.12,.88],[1.15,.90],[1.18,.82],[1.06,.84],[.94,.82],[.88,.80],[.97,.85]];
const verdeMediaAnillo = [[.10,.31],[.12,.35],[.14,.38],[.17,.40],[.19,.43],[.22,.45],[.20,.39],[.24,.48],[.27,.50],[.29,.53],[.32,.55],[.35,.58],[.38,.60],[.41,.62],[.44,.65],[.47,.67],[.50,.68],[.53,.70],[.56,.72],[.59,.75],[.62,.81],[.65,.84],[.68,.88],[.70,.90],[.75,.92],[.79,.94],[.84,.95],[.89,.96],[.93,.97],[.97,.98],[1.03,1.0],[1.08,.99],[1.13,1.01],[.17,.07],[.21,.10],[.25,.13],[.29,.16],[.33,.20],[.37,.21],[.41,.24],[.45,.25],[.49,.27],[.53,.30],[.57,.32],[.61,.36],[.65,.38],[.69,.43],[.73,.47],[.77,.52],[.81,.57],[.85,.62],[.89,.65],[.93,.67],[.97,.69],[1.01,.71],[1.06,.75],[1.09,.72],[1.12,.76],[1.17,.78],[1.19,.82],[.90,.60],[.84,.56],[.78,.48]];
const pesoMediaPuntos = [[.21,.91],[.33,.90],[.585,.93],[.12,.84],[.125,.785],[.385,.825],[.28,.80],[.36,.81],[.53,.78],[.56,.79],[.37,.76],[.40,.76],[.29,.755],[.27,.745],[.17,.735],[.19,.73],[.19,.71],[.14,.705],[.135,.69],[.205,.69],[.205,.68],[.42,.72],[.45,.71],[.49,.73],[.51,.72],[.36,.67],[.40,.665],[.11,.62],[.27,.635],[.31,.63],[.32,.62],[.29,.60],[.22,.53],[.23,.55],[.28,.58],[.24,.50],[.21,.51],[.13,.42],[.14,.40],[.12,.43],[.19,.49],[.18,.46],[.56,.22],[.59,.13],[.47,.27],[.505,.27],[.53,.24],[.57,.26],[.60,.24],[.625,.24],[.70,.265],[.84,.30],[1.02,.23],[1.01,.31],[1.0,.36],[.85,.35],[.76,.36],[.78,.365],[.71,.37],[.66,.38],[1.135,.535],[1.175,.48],[1.195,.475],[1.19,.56],[1.19,.65],[1.18,.63],[.91,.46],[.91,.44],[.89,.49],[.87,.53],[.96,.54],[1.0,.48],[1.02,.47],[.98,.58],[.94,.52],[1.03,.58],[1.06,.56],[1.08,.61],[1.11,.59],[1.13,.66],[1.15,.70],[1.18,.68],[1.14,.97],[1.15,.98],[1.15,.945],[1.19,.97],[1.17,.91],[1.03,.96],[1.07,.97],[.98,.94],[.94,.93],[.89,.91],[.82,.90],[.74,.90],[.70,.875],[.66,.85],[.64,.84],[.60,.78],[.58,.73],[.84,.64],[.82,.60],[.79,.58],[.76,.53],[.72,.47],[.68,.41],[1.02,.66],[1.04,.68],[.96,.66],[.92,.64],[1.08,.70],[1.1,.74],[1.16,.77],[1.12,.80]];
const promMediaPuntos = [[.215,.935],[.33,.925],[.585,.935],[.12,.845],[.12,.77],[.385,.84],[.475,.845],[.265,.80],[.28,.77],[.19,.76],[.19,.74],[.18,.73],[.19,.71],[.21,.705],[.13,.73],[.135,.715],[.28,.765],[.42,.79],[.47,.75],[.49,.74],[.52,.72],[.54,.74],[.33,.71],[.35,.70],[.37,.68],[.38,.64],[.30,.63],[.27,.66],[.11,.66],[.135,.63],[.26,.63],[.30,.57],[.25,.57],[.32,.63],[.28,.58],[.25,.53],[.21,.52],[.13,.42],[.14,.39],[.12,.37],[.18,.46],[.14,.49],[.20,.44],[.57,.165],[.63,.25],[.47,.26],[.50,.27],[.53,.25],[.58,.27],[.62,.28],[.69,.28],[.75,.31],[.84,.25],[.94,.22],[.845,.36],[1.02,.36],[1.0,.30],[.76,.36],[.72,.39],[.66,.36],[.67,.39],[1.15,.50],[1.19,.56],[1.19,.60],[1.2,.65],[1.18,.62],[.91,.44],[.88,.50],[.89,.49],[.93,.49],[.92,.44],[.96,.51],[1.0,.51],[1.02,.48],[.98,.57],[1.04,.60],[1.06,.59],[1.08,.60],[1.12,.60],[1.15,.64],[1.19,.69],[1.14,.96],[1.13,.99],[1.16,.98],[1.19,.965],[1.05,.95],[1.02,.965],[.98,.93],[.94,.945],[.86,.92],[.80,.91],[.73,.90],[.68,.87],[.64,.85],[.61,.76],[.57,.72],[.84,.62],[.80,.58],[.76,.55],[.72,.50],[.68,.45],[1.03,.67],[.99,.68],[.95,.65],[1.1,.72],[1.16,.78],[1.12,.76]];

// BPz
const bpzNube = [[.096,.02],[.096,.23],[.12,.27],[.14,.31],[.18,.33],[.22,.36],[.25,.42],[.29,.46],[.33,.51],[.38,.54],[.44,.57],[.50,.61],[.55,.65],[.60,.68],[.65,.70],[.70,.72],[.76,.70],[.77,.63],[.74,.59],[.70,.56],[.65,.53],[.60,.50],[.56,.47],[.52,.43],[.48,.40],[.45,.36],[.41,.30],[.47,.28],[.53,.25],[.58,.23],[.62,.21],[.68,.19],[.66,.17],[.60,.19],[.54,.20],[.47,.22],[.41,.21],[.37,.17],[.33,.13],[.28,.10],[.23,.07],[.20,.04],[.17,.017],[.106,.005]];
const bpzFranja1 = [[.72,.89],[.82,.91],[.90,.90],[.98,.885],[.98,.87],[.86,.87],[.74,.86]];
const bpzFranja2 = [[.64,.71],[.78,.71],[.94,.70],[1.04,.70],[1.04,.69],[.90,.69],[.76,.695]];
const bpzFranja3 = [[.74,.625],[.86,.62],[.94,.62],[.94,.61],[.80,.61],[.74,.61]];
const bpzFranja4 = [[.75,1.045],[.85,1.04],[.98,1.045],[1.15,1.045],[1.15,1.03],[1.0,1.035],[.85,1.035],[.75,1.03]];
const bpzFranja5 = [[.97,1.145],[1.05,1.135],[1.16,1.14],[1.16,1.125],[1.05,1.125],[.97,1.13]];
const bpzFranja6 = [[.82,.965],[.94,.96],[.94,.95],[.82,.955]];
const bpzOscuro = [[.1,.038],[.1,.13],[.14,.193],[.226,.257],[.282,.313],[.353,.398],[.452,.483],[.55,.568],[.678,.667],[.682,.624],[.607,.554],[.508,.483],[.424,.412],[.367,.30],[.282,.257],[.212,.116],[.155,.038],[.113,.028]];
const bpzMedio = [[.102,.052],[.106,.158],[.184,.215],[.254,.285],[.31,.313],[.325,.31],[.268,.257],[.212,.20],[.162,.109],[.155,.038],[.113,.034]];
const bpzMedio2 = [[.346,.384],[.38,.405],[.48,.497],[.58,.565],[.586,.54],[.494,.469],[.41,.398],[.353,.363]];
const bpzCentro = [[.135,.115],[.15,.115],[.15,.13],[.135,.13]];
const bpzBorde = [[.72,.92],[.74,.90],[.76,.92],[.78,.88],[.80,.90],[.82,.93],[.84,.89],[.86,.92],[.88,.88],[.90,.91],[.92,.88],[.94,.89],[.96,.875],[.98,.89],[1.0,.87],[1.02,.885],[1.04,.875],[1.06,.875],[1.09,.86],[1.12,.875],[.72,.855],[.74,.84],[.77,.85],[.80,.86],[.83,.85],[.86,.845],[.90,.85],[.66,.70],[.70,.72],[.74,.68],[.77,.70],[.80,.72],[.83,.70],[.86,.71],[.89,.68],[.92,.70],[.95,.71],[.98,.69],[1.01,.70],[1.04,.70],[1.07,.70],[1.12,.70],[1.15,.71],[.72,.63],[.75,.60],[.78,.62],[.81,.64],[.84,.60],[.87,.62],[.90,.62],[.93,.605],[.96,.62],[.99,.62],[.74,1.03],[.76,1.06],[.78,1.04],[.80,1.05],[.83,1.04],[.86,1.03],[.90,1.05],[.95,1.03],[.99,1.05],[1.02,1.02],[1.05,1.05],[1.08,1.03],[1.11,1.05],[1.14,1.05],[1.17,1.03],[1.19,1.04],[.82,.97],[.85,.95],[.88,.96],[.92,.96],[.95,.95],[.70,1.14],[.96,1.12],[1.0,1.15],[1.03,1.12],[1.06,1.14],[1.09,1.12],[1.12,1.15],[1.15,1.13],[1.18,1.15],[1.19,1.12],[.84,.85],[.12,.30],[.11,.26],[.13,.33],[.15,.34],[.17,.36],[.19,.35],[.21,.39],[.23,.38],[.25,.45],[.27,.46],[.29,.49],[.31,.50],[.33,.54],[.35,.53],[.37,.56],[.40,.56],[.42,.59],[.45,.60],[.48,.62],[.51,.64],[.53,.66],[.56,.67],[.58,.70],[.61,.71],[.63,.74],[.66,.73],[.68,.76],[.71,.75],[.74,.73],[.78,.68],[.79,.65],[.78,.60],[.76,.58],[.73,.56],[.70,.53],[.67,.52],[.64,.50],[.61,.48],[.58,.45],[.55,.44],[.52,.40],[.49,.37],[.46,.35],[.43,.32],[.50,.29],[.55,.27],[.60,.25],[.64,.22],[.67,.20],[.70,.20],[.73,.19],[.74,.17],[.70,.17],[.66,.15],[.62,.17],[.58,.17],[.54,.18],[.50,.19],[.46,.18],[.42,.19],[.38,.15],[.34,.11],[.30,.09],[.26,.05],[.22,.03],[.19,.015]];
const bpzAnillo = [[.10,.28],[.11,.33],[.13,.36],[.16,.38],[.19,.40],[.22,.42],[.20,.37],[.24,.47],[.27,.50],[.30,.53],[.32,.57],[.36,.58],[.39,.60],[.43,.63],[.46,.64],[.49,.67],[.52,.69],[.55,.72],[.59,.74],[.62,.77],[.65,.78],[.69,.80],[.73,.77],[.76,.76],[.80,.68],[.82,.66],[.83,.62],[.78,.57],[.74,.52],[.70,.49],[.66,.47],[.62,.45],[.58,.42],[.54,.38],[.50,.35],[.47,.32],[.52,.31],[.57,.29],[.62,.27],[.66,.25],[.71,.22],[.76,.19],[.72,.15],[.68,.14],[.63,.15],[.56,.15],[.51,.16],[.47,.15],[.40,.13],[.36,.09],[.33,.08],[.29,.06],[.25,.03],[.85,.91],[.89,.92],[.93,.91],[.97,.90],[1.01,.89],[1.05,.89],[.87,.86],[.92,.86],[.78,.93],[.70,.87],[.68,.88],[.76,.72],[.83,.72],[.90,.72],[.97,.72],[1.05,.72],[.85,.68],[.91,.68],[.97,.67],[.76,.64],[.80,.60],[.88,.60],[1.02,.62],[.79,1.02],[.84,1.06],[.92,1.03],[.97,1.06],[1.03,1.06],[1.10,1.03],[1.16,1.06],[.99,1.13],[1.08,1.15],[1.14,1.15],[.84,.98],[.90,.97],[.96,.96]];
const bpzPuntos = [[.20,1.18],[.33,1.165],[.365,1.125],[.115,1.135],[.12,1.12],[.13,1.115],[.14,1.11],[.125,1.125],[.55,1.05],[.62,1.12],[.655,1.14],[.65,1.125],[.72,1.13],[.74,1.12],[.78,1.13],[.82,1.125],[.86,1.135],[.90,1.13],[.93,1.14],[.99,1.16],[1.03,1.165],[1.12,1.17],[1.17,1.14],[.49,1.06],[.49,.99],[.27,.99],[.39,.91],[.27,.865],[.12,.82],[.13,.80],[.21,.80],[.28,.78],[.27,.74],[.18,.76],[.18,.73],[.19,.72],[.17,.70],[.19,.69],[.34,.72],[.38,.72],[.405,.715],[.43,.72],[.48,.73],[.46,.83],[.48,.79],[.50,.78],[.55,.76],[.58,.74],[.62,.87],[.68,.83],[.70,.81],[.73,.88],[.66,.85],[.68,.92],[.69,.97],[.72,.95],[.75,.97],[.80,.96],[.90,.98],[.97,.96],[.72,.84],[.76,.79],[.80,.82],[.82,.78],[.84,.76],[.90,.80],[.93,.84],[.97,.83],[1.03,.85],[1.05,.83],[1.12,.82],[1.14,.73],[1.15,.72],[1.17,.65],[1.19,.63],[1.10,.705],[1.03,.70],[1.05,.625],[1.08,.625],[1.12,.62],[.36,.47],[.10,.45],[.135,.395],[.165,.39],[.14,.55],[.21,.55],[.23,.515],[.25,.46],[.30,.655],[.31,.64],[.40,.67],[.43,.62],[.50,.64],[.56,.72],[.62,.79],[.65,.80],[.10,.33],[.12,.31],[.14,.28],[1.0,.03],[.87,.19],[.79,.16],[.75,.14],[.72,.12],[.65,.12],[.68,.12],[.62,.13],[.60,.12],[.58,.10],[.55,.09],[.51,.11],[.58,.14],[.42,.12],[.43,.08],[.43,.03],[.41,.05],[.29,.03],[.26,.02],[.18,.01],[.13,.005],[.23,.22],[.25,.36],[.98,.15],[1.01,.15],[1.05,.16],[1.06,.20],[.88,.15],[.86,.13],[.89,.14],[.94,.17],[.93,.19],[.97,.20],[1.02,.19],[1.09,.19],[1.15,.22],[1.18,.15],[1.15,.13],[1.17,.21],[1.05,.29],[1.07,.28],[1.1,.27],[1.13,.35],[1.18,.37],[1.17,.31],[1.19,.29],[1.05,.36],[1.03,.36],[.99,.40],[.97,.46],[1.0,.47],[1.03,.46],[1.12,.42],[1.13,.44],[.85,.43],[.78,.44],[.77,.46],[.75,.45],[.74,.39],[.71,.36],[.70,.37],[.67,.38],[.63,.38],[.63,.42],[.58,.40],[.59,.36],[.56,.34],[.54,.30],[.86,.28],[.84,.26],[.82,.22],[.80,.20],[.72,.31],[.69,.34],[.75,.50],[.72,.53],[.80,.52],[.82,.55],[.88,.50],[.92,.50],[.94,.49],[.85,.53],[1.09,.44],[1.18,.53],[.90,.55],[.92,.57]];

const titulosPanel = ['ANNz2', 'Multiplied (peak)', 'Weighted (peak)', 'Averaged (peak)', 'BPz', 'Multiplied (mean)', 'Weighted (mean)', 'Averaged (mean)'];

const rojo = ['#ff0000', '#a60000', '#dca000', '#3c9a10'];
const azul = ['#0099ff', '#1f5f8f', '#a8bf30', '#f4f400'];
const verde = ['#00ad00', '#5a9000', '#96b400', '#f0f000'];

const capasPanel = [
  { colores: rojo, nube: [annzNube], oscuro: [annzOscuro], medio: [annzMedio, annzMedio2, annzMedio3], centro: annzCentro, puntos: [annzBorde, annzAnillo, annzPuntos] },
  { colores: azul, nube: [multPicoNube], oscuro: [multPicoOscuro, multPicoOscuro2], medio: [multPicoMedio], centro: multPicoCentro, puntos: [multPicoBorde, multPicoAnillo, multPicoPuntos] },
  { colores: verde, nube: [verdePicoNube], oscuro: [verdePicoOscuro], medio: [verdePicoMedio], centro: verdePicoCentro, puntos: [verdePicoBorde, verdePicoAnillo, pesoPicoPuntos] },
  { colores: verde, nube: [verdePicoNube], oscuro: [verdePicoOscuro], medio: [verdePicoMedio], centro: verdePicoCentro, puntos: [verdePicoBorde, verdePicoAnillo, promPicoPuntos] },
  { colores: rojo, nube: [bpzNube, bpzFranja1, bpzFranja2, bpzFranja3, bpzFranja4, bpzFranja5, bpzFranja6], oscuro: [bpzOscuro], medio: [bpzMedio, bpzMedio2], centro: bpzCentro, puntos: [bpzBorde, bpzAnillo, bpzPuntos] },
  { colores: azul, nube: [multMediaNube], oscuro: [multMediaOscuro], medio: [multMediaMedio], centro: multMediaCentro, puntos: [multMediaBorde, multMediaAnillo, multMediaPuntos] },
  { colores: verde, nube: [verdeMediaNube], oscuro: [verdeMediaOscuro], medio: [verdeMediaMedio], centro: verdeMediaCentro, puntos: [verdeMediaBorde, verdeMediaAnillo, pesoMediaPuntos] },
  { colores: verde, nube: [verdeMediaNube], oscuro: [verdeMediaOscuro], medio: [verdeMediaMedio], centro: verdeMediaCentro, puntos: [verdeMediaBorde, verdeMediaAnillo, promMediaPuntos] }
];

// ── GEOMETRÍA ───────────────────────────────────────────────
const bordesX = [77, 361, 644, 928];
const bordesY = [46, 330];
const anchoPanel = 284;
const altoPanel = 284;
const margen = 10;

// Marco, marcas hacia dentro y leyenda de cada panel
const marcoPanel = {
  id: 'marcoPanel',
  afterDatasetsDraw(chart, args, opts) {
    const { ctx, chartArea: a, scales: { x, y } } = chart;
    ctx.save();
    ctx.lineWidth = 1;
    ctx.strokeStyle = '#666';
    ctx.beginPath();
    x.ticks.forEach((t, i) => {
      const p = Math.round(x.getPixelForTick(i)) + 0.5;
      ctx.moveTo(p, a.bottom); ctx.lineTo(p, a.bottom - 4);
      ctx.moveTo(p, a.top); ctx.lineTo(p, a.top + 4);
    });
    y.ticks.forEach((t, i) => {
      const p = Math.round(y.getPixelForTick(i)) + 0.5;
      ctx.moveTo(a.left, p); ctx.lineTo(a.left + 4, p);
      ctx.moveTo(a.right, p); ctx.lineTo(a.right - 4, p);
    });
    ctx.stroke();

    ctx.strokeStyle = opts.fila === 0 ? '#bbb' : '#666';
    ctx.beginPath(); ctx.moveTo(a.left, a.top + 0.5); ctx.lineTo(a.right, a.top + 0.5); ctx.stroke();
    ctx.strokeStyle = '#555';
    ctx.beginPath(); ctx.moveTo(a.left, a.bottom + 0.5); ctx.lineTo(a.right, a.bottom + 0.5); ctx.stroke();
    ctx.strokeStyle = opts.columna === 0 ? '#aaa' : '#777';
    ctx.beginPath(); ctx.moveTo(a.left + 0.5, a.top); ctx.lineTo(a.left + 0.5, a.bottom); ctx.stroke();

    ctx.fillStyle = opts.color;
    ctx.beginPath(); ctx.arc(a.left + 33, a.top + 20.5, 3.5, 0, Math.PI * 2); ctx.fill();
    ctx.fillStyle = '#222';
    ctx.font = '13px "Liberation Sans"';
    ctx.textBaseline = 'middle';
    ctx.fillText(opts.texto, a.left + 54, a.top + 20.5);
    ctx.restore();
  }
};

function recta(datos, color, ancho) {
  return { data: datos, showLine: true, borderColor: color, borderWidth: ancho, pointRadius: 0, fill: false };
}

function zona(datos, color) {
  return { data: datos, showLine: true, fill: 'shape', backgroundColor: color, borderColor: color, borderWidth: 0.5, pointRadius: 0 };
}

function sinRelleno(escala) {
  escala.paddingLeft = 0;
  escala.paddingRight = 0;
  escala.paddingTop = 0;
  escala.paddingBottom = 0;
}

// ── CREACIÓN DE PANELES ─────────────────────────────────────
function crearPanel(i) {
  const columna = i % 4;
  const fila = Math.floor(i / 4);
  const capas = capasPanel[i];
  const [cNube, cOscuro, cMedio, cCentro] = capas.colores;

  const izquierda = columna === 0 ? 77 : margen;
  const abajo = fila === 1 ? 70 : margen;

  const lienzo = document.createElement('canvas');
  lienzo.width = izquierda + anchoPanel;
  lienzo.height = margen + altoPanel + abajo;
  lienzo.style.left = (bordesX[columna] - izquierda) + 'px';
  lienzo.style.top = (bordesY[fila] - margen) + 'px';
  document.body.appendChild(lienzo);

  const datasets = [
    recta(lineaIdentidad, '#111', 1.1),
    recta(lineaSuperior, '#2a2ae8', 1.2),
    recta(lineaInferior, '#2a2ae8', 1.2),
    zona(capas.centro, cCentro),
    ...capas.medio.map(m => zona(m, cMedio)),
    ...capas.oscuro.map(m => zona(m, cOscuro)),
    ...capas.nube.map(m => zona(m, cNube)),
    ...capas.puntos.map(p => ({ data: p, pointRadius: 2.8, pointBackgroundColor: cNube, pointBorderWidth: 0, showLine: false }))
  ];

  const ticksComunes = { stepSize: 0.2, color: '#444', autoSkip: false, maxRotation: 0,
    font: { size: 17, family: '"Liberation Sans"' }, callback: (v, k) => tickLabels[k] };

  new Chart(lienzo, {
    type: 'scatter',
    data: { datasets },
    options: {
      responsive: false,
      animation: false,
      layout: { autoPadding: false, padding: { top: margen, left: 0, right: 0, bottom: 0 } },
      plugins: {
        legend: { display: false },
        tooltip: { enabled: false },
        marcoPanel: { fila, columna, color: cNube, texto: titulosPanel[i] }
      },
      scales: {
        x: {
          type: 'linear', min: 0, max: 1.2,
          grid: { display: false, drawTicks: false }, border: { display: false },
          ticks: { ...ticksComunes, display: fila === 1, padding: 9 },
          afterFit: s => { s.height = abajo; sinRelleno(s); }
        },
        y: {
          type: 'linear', min: 0, max: 1.2,
          grid: { display: false, drawTicks: false }, border: { display: false },
          ticks: { ...ticksComunes, display: columna === 0, padding: 10 },
          afterFit: s => { s.width = izquierda; sinRelleno(s); }
        }
      }
    },
    plugins: [marcoPanel]
  });
}

function crearEtiquetas() {
  bordesX.forEach(x0 => {
    const d = document.createElement('div');
    d.className = 'ejeX';
    d.style.left = (x0 + 100) + 'px';
    d.innerHTML = 'z<sub>spec</sub>';
    document.body.appendChild(d);
  });
  bordesY.forEach(y0 => {
    const d = document.createElement('div');
    d.className = 'ejeY';
    d.style.left = '-16px';
    d.style.top = (y0 + 133) + 'px';
    d.innerHTML = 'z<sub>phot</sub>';
    document.body.appendChild(d);
  });
}

window.addEventListener('DOMContentLoaded', () => {
  titulosPanel.forEach((_, i) => crearPanel(i));
  crearEtiquetas();
});
</script>
</body>
</html>
